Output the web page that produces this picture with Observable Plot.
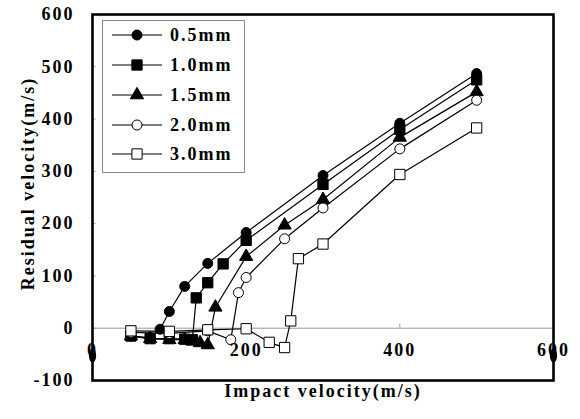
<!DOCTYPE html>
<html>
<head>
<meta charset="utf-8">
<script src="https://cdn.jsdelivr.net/npm/d3@7"></script>
<script src="https://cdn.jsdelivr.net/npm/@observablehq/plot@0.6"></script>
<style>
  body { margin: 0; background: #fff; }
  #wrap { position: relative; width: 580px; height: 419px; }
  #wrap svg { font-family: "Liberation Serif", "Times New Roman", serif; font-weight: bold; }
  #legend { position: absolute; left: 0; top: 0; }
</style>
</head>
<body>
<div id="wrap"></div>
<script>
// ---- data ----
const seriesNames = ["0.5mm", "1.0mm", "1.5mm", "2.0mm", "3.0mm"];
const x05 = [50, 75, 88, 100, 120, 150, 200, 300, 400, 500];
const y05 = [-15, -18, -2, 32, 80, 124, 183, 292, 392, 487];
const x10 = [50, 75, 100, 120, 130, 135, 150, 170, 200, 300, 400, 500];
const y10 = [-15, -20, -20, -21, -22, 58, 87, 123, 168, 275, 380, 475];
const x15 = [50, 75, 100, 120, 130, 140, 150, 160, 200, 250, 300, 400, 500];
const y15 = [-15, -20, -22, -22, -25, -28, -32, 40, 137, 197, 246, 365, 452];
const x20 = [50, 100, 150, 180, 190, 200, 250, 300, 400, 500];
const y20 = [-8, -10, -5, -22, 68, 97, 171, 230, 343, 436];
const x30 = [50, 100, 150, 200, 230, 250, 258, 268, 300, 400, 500];
const y30 = [-5, -6, -3, -1, -27, -37, 14, 133, 161, 294, 383];
const xTicks = [0, 200, 400, 600];
const yTicks = [-100, 0, 100, 200, 300, 400, 500, 600];
const xEnds = [0, 600];
const xTitle = "Impact velocity(m/s)";
const yTitle = "Residual velocity(m/s)";

const xs = [x05, x10, x15, x20, x30];
const ys = [y05, y10, y15, y20, y30];
const symbols = ["circle", "square", "triangle", "circle", "square"];
const fills = ["black", "black", "black", "white", "white"];
const radii = [5, 5.8, 4.9, 5, 5.8];

const rows = [];
seriesNames.forEach((s, i) => xs[i].forEach((x, j) => rows.push({series: s, x, y: ys[i][j]})));

const ellipse = {
  draw(ctx) {
    const rx = 3.6, ry = 7, k = 0.5523;
    ctx.moveTo(0, -ry);
    ctx.bezierCurveTo(rx * k, -ry, rx, -ry * k, rx, 0);
    ctx.bezierCurveTo(rx, ry * k, rx * k, ry, 0, ry);
    ctx.bezierCurveTo(-rx * k, ry, -rx, ry * k, -rx, 0);
    ctx.bezierCurveTo(-rx, -ry * k, -rx * k, -ry, 0, -ry);
    ctx.closePath();
  }
};

const marks = [
  Plot.ruleY([0], {stroke: "#999", strokeWidth: 1}),
  Plot.ruleY(yTicks.filter(d => d > -100 && d < 600), {x1: 0, x2: 5, stroke: "#aaa"}),
  Plot.ruleX(xTicks.filter(d => d > 0 && d < 600), {y1: 0, y2: 8, stroke: "#999"}),
];
seriesNames.forEach((s, i) => {
  const data = rows.filter(r => r.series === s);
  marks.push(Plot.line(data, {x: "x", y: "y", stroke: "black", strokeWidth: 1.2}));
  marks.push(Plot.dot(data, {x: "x", y: "y", symbol: symbols[i], r: radii[i], fill: fills[i], stroke: "black", strokeWidth: 1}));
});
marks.push(
  Plot.text(xTicks, {x: d => d, text: d => String(d), frameAnchor: "bottom", dy: -25, fontSize: 18, fill: "black", style: "letter-spacing:2px"}),
  Plot.dot(xEnds, {x: d => d, frameAnchor: "bottom", dy: -25, symbol: ellipse, fill: "black", stroke: "none"}),
  Plot.axisY(yTicks, {tickSize: 0, tickPadding: 18, fontSize: 18, label: null, tickFormat: d => String(d)}),
  Plot.text([yTitle], {frameAnchor: "left", textAnchor: "middle", dx: -64, dy: -14, rotate: -90, fontSize: 18, fill: "black"}),
  Plot.text([xTitle], {frameAnchor: "bottom", dy: 16, fontSize: 18, fill: "black"}),
  Plot.frame({stroke: "black", strokeWidth: 2.6})
);

const chart = Plot.plot({
  width: 580,
  height: 419,
  marginLeft: 92,
  marginRight: 27,
  marginTop: 14,
  marginBottom: 39,
  x: {domain: [0, 600], axis: null},
  y: {domain: [-100, 600], axis: null},
  style: {fontFamily: "Liberation Serif, serif", fontWeight: "bold", fontSize: "18px", background: "white", color: "black", letterSpacing: "2px"},
  marks
});
document.getElementById("wrap").appendChild(chart);

// ---- legend overlay ----
const leg = d3.select("#wrap").append("svg").attr("id", "legend").attr("width", 260).attr("height", 180);
leg.append("rect").attr("x", 102.5).attr("y", 20.5).attr("width", 142).attr("height", 152)
  .attr("fill", "white").attr("stroke", "#888").attr("stroke-width", 1);
const rowY = [35, 65, 95, 125, 154];
seriesNames.forEach((s, i) => {
  const g = leg.append("g").attr("transform", `translate(0,${rowY[i]})`);
  g.append("line").attr("x1", 112).attr("x2", 162).attr("stroke", "black").attr("stroke-width", 1.2);
  const sym = {circle: d3.symbolCircle, square: d3.symbolSquare, triangle: d3.symbolTriangle}[symbols[i]];
  g.append("path").attr("transform", "translate(137,0)")
    .attr("d", d3.symbol(sym, Math.PI * radii[i] * radii[i])())
    .attr("fill", fills[i]).attr("stroke", "black").attr("stroke-width", 1);
  g.append("text").attr("x", 170).attr("dy", "0.35em").text(s)
    .attr("font-family", "Liberation Serif, serif").attr("font-weight", "bold")
    .attr("font-size", 18).attr("letter-spacing", "2px").attr("fill", "black");
});
</script>
</body>
</html>
